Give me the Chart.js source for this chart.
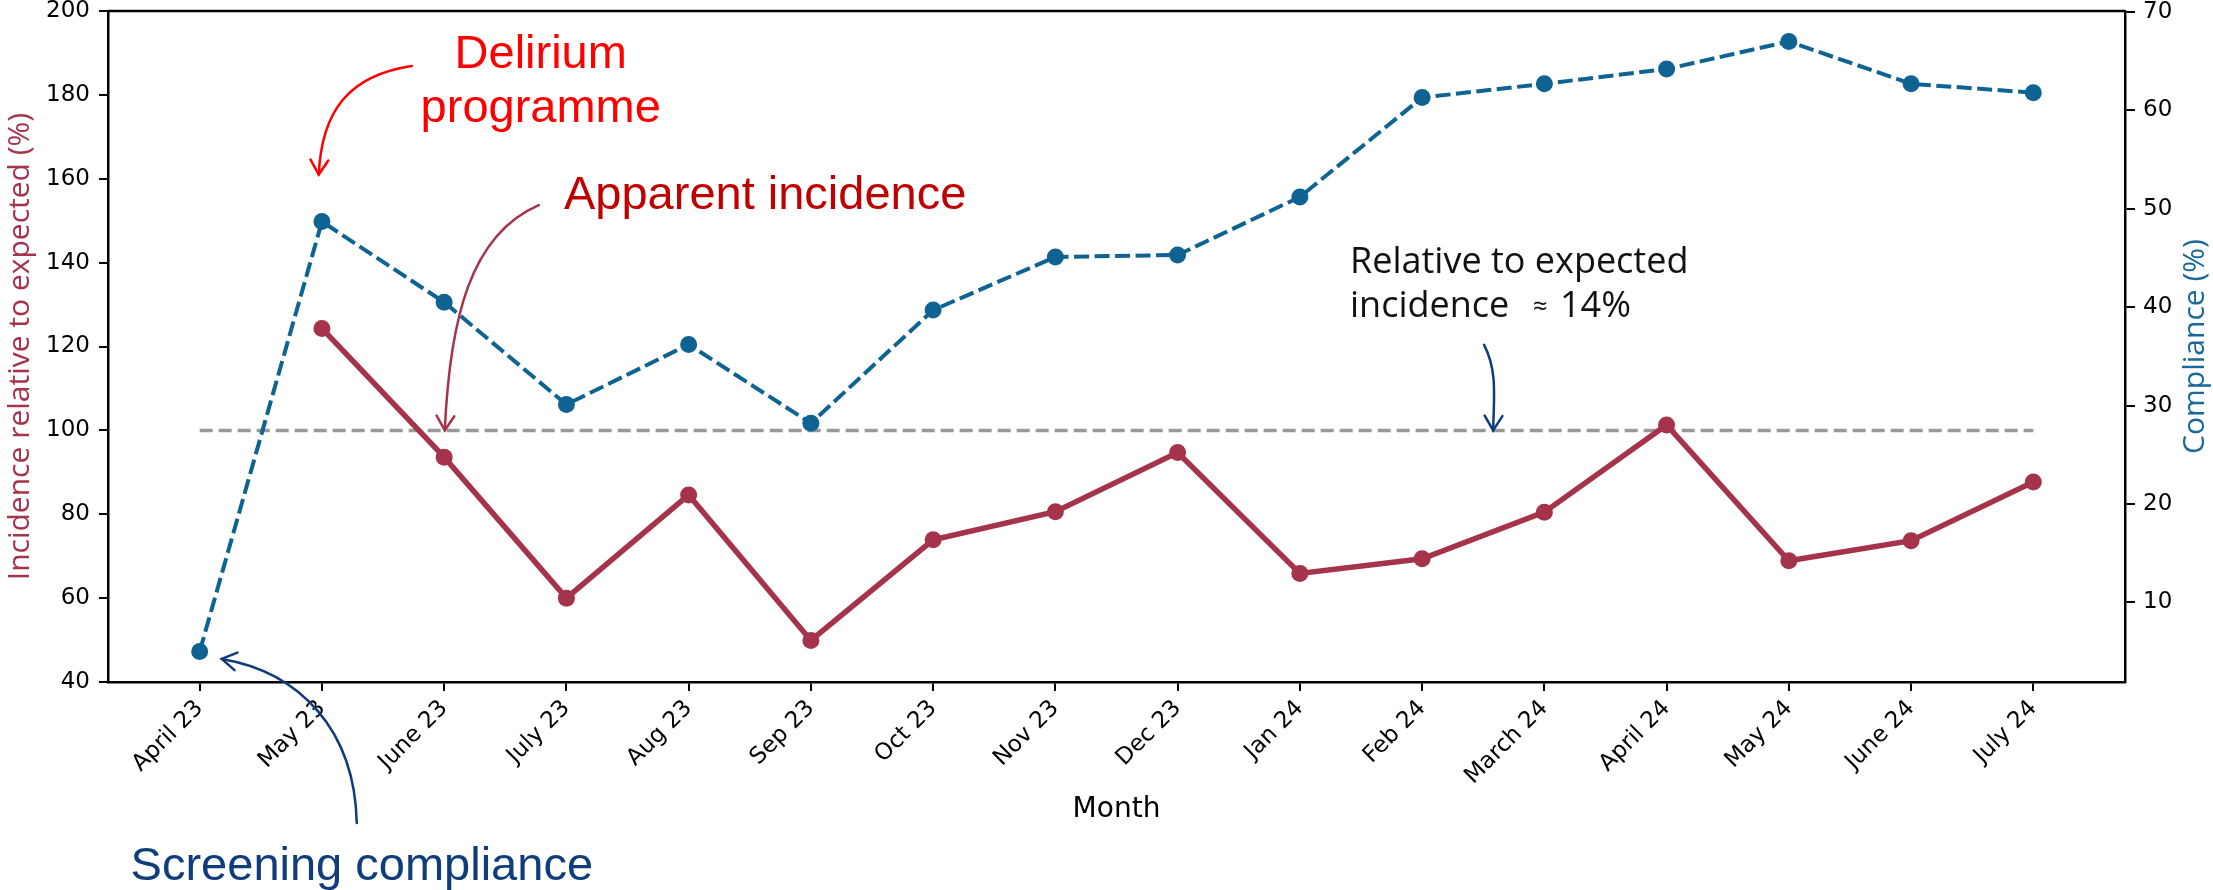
<!DOCTYPE html>
<html>
<head>
<meta charset="utf-8">
<script src="https://cdn.jsdelivr.net/npm/chart.js@4.4.1/dist/chart.umd.min.js"></script>
<style>
  html, body { margin: 0; padding: 0; background: #fff; }
  #wrap { width: 2213px; height: 890px; }
</style>
</head>
<body>
<div id="wrap"><canvas id="myChart" width="2213" height="890"></canvas></div>
<script>
// Data
const months = ['April 23', 'May 23', 'June 23', 'July 23', 'Aug 23', 'Sep 23', 'Oct 23', 'Nov 23',
                'Dec 23', 'Jan 24', 'Feb 24', 'March 24', 'April 24', 'May 24', 'June 24', 'July 24'];
// incidence relative to expected (%), nothing for April 23
const incidence = [null, 124.3, 93.6, 60.0, 84.6, 49.9, 73.9, 80.6, 94.7, 65.9, 69.4, 80.5, 101.3, 68.9, 73.7, 87.7];
// screening compliance (%)
const compliance = [5.0, 48.7, 40.5, 30.1, 36.2, 28.2, 39.7, 45.1, 45.3, 51.2, 61.3, 62.7, 64.2, 67.0, 62.7, 61.8];
const expectedLevel = 100;
const leftTicks = [40, 60, 80, 100, 120, 140, 160, 180, 200];
const rightTicks = [10, 20, 30, 40, 50, 60, 70];

const RED = '#a5334a';
const BLUE = '#0f6392';
const NAVY = '#0f3c7b';

const toPoints = arr => arr.map((v, i) => ({ x: i, y: v })).filter(p => p.y !== null);

// annotations, in data coordinates (x = month index, y = left axis)
const overlay = {
    id: 'overlay',
    beforeDraw(chart) {
        const ctx = chart.ctx;
        ctx.save();
        ctx.fillStyle = '#fff';
        ctx.fillRect(0, 0, chart.width, chart.height);
        ctx.restore();
    },
    afterDraw(chart) {
        const { ctx, chartArea: a, scales } = chart;
        const x = scales.x, y = scales.y;
        const P = (i, v) => [x.getPixelForValue(i), y.getPixelForValue(v)];

        ctx.save();
        // top spine
        ctx.strokeStyle = '#000';
        ctx.lineWidth = 2.5;
        ctx.beginPath();
        ctx.moveTo(a.left, a.top);
        ctx.lineTo(a.right, a.top);
        ctx.stroke();

        // right axis title, reads bottom to top
        ctx.save();
        ctx.translate(scales.y1.right - 18, (a.top + a.bottom) / 2);
        ctx.rotate(-Math.PI / 2);
        ctx.fillStyle = '#1a6898';
        ctx.font = '30px "Open Sans"';
        ctx.textAlign = 'center';
        ctx.textBaseline = 'middle';
        ctx.fillText('Compliance (%)', 0, 0);
        ctx.restore();

        function arrow(pts, color) {
            const p = pts.map(q => P(q[0], q[1]));
            ctx.strokeStyle = color;
            ctx.lineWidth = 2.5;
            ctx.lineCap = 'round';
            ctx.beginPath();
            ctx.moveTo(p[0][0], p[0][1]);
            ctx.bezierCurveTo(p[1][0], p[1][1], p[2][0], p[2][1], p[3][0], p[3][1]);
            ctx.stroke();
            const ang = Math.atan2(p[3][1] - p[2][1], p[3][0] - p[2][0]);
            const len = 17;
            ctx.beginPath();
            ctx.moveTo(p[3][0] - len * Math.cos(ang - 0.55), p[3][1] - len * Math.sin(ang - 0.55));
            ctx.lineTo(p[3][0], p[3][1]);
            ctx.lineTo(p[3][0] - len * Math.cos(ang + 0.55), p[3][1] - len * Math.sin(ang + 0.55));
            ctx.stroke();
        }

        // Delirium programme
        ctx.font = '47px "Liberation Sans", Arial, sans-serif';
        ctx.fillStyle = '#ff0000';
        ctx.textAlign = 'center';
        let t = P(2.79, 186.4);
        ctx.fillText('Delirium', t[0], t[1]);
        t = P(2.79, 173.5);
        ctx.fillText('programme', t[0], t[1]);
        arrow([[1.735, 186.9], [1.227, 184.7], [0.998, 176.4], [0.974, 161]], '#ff0000');

        // Apparent incidence
        ctx.textAlign = 'left';
        ctx.fillStyle = '#c00000';
        t = P(2.98, 152.8);
        ctx.fillText('Apparent incidence', t[0], t[1]);
        arrow([[2.774, 153.7], [2.209, 146.6], [2.046, 126.3], [2.005, expectedLevel]], RED);

        // Screening compliance
        ctx.fillStyle = NAVY;
        t = P(-0.565, -7.2);
        ctx.fillText('Screening compliance', t[0], t[1]);
        arrow([[1.285, 6.4], [1.268, 28.6], [0.818, 42.4], [0.18, 45.5]], NAVY);

        // Relative to expected incidence
        ctx.fillStyle = '#111';
        ctx.font = '36px "Open Sans"';
        t = P(9.41, 137.6);
        ctx.fillText('Relative to expected', t[0], t[1]);
        t = P(9.41, 127.0);
        ctx.fillText('incidence', t[0], t[1]);
        ctx.font = '26px "Open Sans"';
        ctx.fillText('\u2248', t[0] + 183, t[1] - 2);
        ctx.font = '36px "Open Sans"';
        ctx.fillText('14%', t[0] + 210, t[1]);
        arrow([[10.507, 120.4], [10.614, 114.4], [10.589, 108.4], [10.581, expectedLevel]], NAVY);

        ctx.restore();
    }
};

// keep the plot box where the reference has it
const fixWidth = w => scale => {
    scale.width = w;
    scale.paddingTop = 0;
    scale.paddingBottom = 0;
};

const ctx = document.getElementById('myChart').getContext('2d');
const myChart = new Chart(ctx, {
    type: 'line',
    data: {
        datasets: [{
            label: 'Compliance (%)',
            data: toPoints(compliance),
            yAxisID: 'y1',
            borderColor: BLUE,
            backgroundColor: BLUE,
            borderWidth: 4,
            borderDash: [15, 5.5],
            pointRadius: 8.5,
            pointBorderWidth: 0,
            pointBackgroundColor: BLUE,
            order: 0
        }, {
            label: 'Incidence relative to expected (%)',
            data: toPoints(incidence),
            yAxisID: 'y',
            borderColor: RED,
            backgroundColor: RED,
            borderWidth: 5.5,
            pointRadius: 8.5,
            pointBorderWidth: 0,
            pointBackgroundColor: RED,
            order: 1
        }, {
            label: 'Expected',
            data: [{ x: 0, y: expectedLevel }, { x: months.length - 1, y: expectedLevel }],
            yAxisID: 'y',
            borderColor: '#999999',
            borderWidth: 3.5,
            borderDash: [13, 6],
            pointRadius: 0,
            order: 2
        }]
    },
    options: {
        responsive: false,
        animation: false,
        devicePixelRatio: 1,
        layout: { padding: { left: 0, right: 0, top: 11, bottom: 0 } },
        plugins: {
            legend: { display: false },
            tooltip: { enabled: false }
        },
        scales: {
            x: {
                type: 'linear',
                min: -0.75,
                max: 15.75,
                afterBuildTicks: axis => { axis.ticks = months.map((m, i) => ({ value: i })); },
                afterFit: scale => {
                    scale.height = 208;
                    scale.paddingLeft = 0;
                    scale.paddingRight = 0;
                },
                ticks: {
                    autoSkip: false,
                    minRotation: 45,
                    maxRotation: 45,
                    padding: 4,
                    color: '#000',
                    font: { family: 'DejaVu Sans', size: 23 },
                    callback: value => months[value]
                },
                grid: { drawOnChartArea: false, color: '#000', lineWidth: 2, tickLength: 9 },
                border: { color: '#000', width: 2.5 },
                title: {
                    display: true,
                    text: 'Month',
                    color: '#000',
                    font: { family: 'DejaVu Sans', size: 28 },
                    padding: { top: 0, bottom: 63 }
                }
            },
            y: {
                position: 'left',
                min: 40,
                max: 200,
                afterBuildTicks: axis => { axis.ticks = leftTicks.map(v => ({ value: v })); },
                afterFit: fixWidth(108),
                ticks: { color: '#000', padding: 9, font: { family: 'DejaVu Sans', size: 23 } },
                grid: { drawOnChartArea: false, color: '#000', lineWidth: 2, tickLength: 9 },
                border: { color: '#000', width: 2.5 },
                title: {
                    display: true,
                    text: 'Incidence relative to expected (%)',
                    color: RED,
                    font: { family: 'Open Sans', size: 30 },
                    padding: { top: 2, bottom: 0 }
                }
            },
            y1: {
                position: 'right',
                min: 1.9,
                max: 70.1,
                afterBuildTicks: axis => { axis.ticks = rightTicks.map(v => ({ value: v })); },
                afterFit: fixWidth(88),
                ticks: { color: '#000', padding: 8, font: { family: 'DejaVu Sans', size: 23 } },
                grid: { drawOnChartArea: false, color: '#000', lineWidth: 2, tickLength: 10 },
                border: { color: '#000', width: 2.5 }
            }
        }
    },
    plugins: [overlay]
});
</script>
</body>
</html>
